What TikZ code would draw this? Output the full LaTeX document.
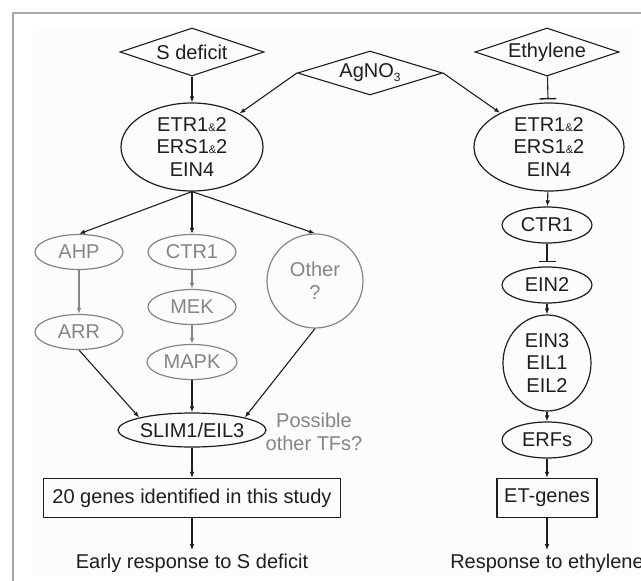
\documentclass[tikz,border=0pt]{standalone}
\usepackage{fontspec}
\setmainfont{Liberation Sans}
\usetikzlibrary{shapes.geometric,arrows.meta}
\definecolor{ink}{HTML}{1E1E1E}
\definecolor{dim}{HTML}{858585}
\definecolor{framegray}{HTML}{A8A8A8}
\newcommand\smallamp{{\fontsize{11}{11}\selectfont\&}}
\newcommand\subthree{\raisebox{-4pt}{\fontsize{12}{12}\selectfont 3}}
\begin{document}
\begin{tikzpicture}[x=1pt,y=-1pt,
  every node/.style={font=\fontsize{20}{22.5}\selectfont, text=ink},
  dia/.style={draw=ink, line width=1.1pt, shape=diamond, inner sep=0pt, aspect=3,
              minimum width=144pt, minimum height=48pt},
  ell/.style={draw=ink, line width=1.2pt, ellipse, inner sep=-14pt, align=center},
  ellg/.style={ell, draw=dim, text=dim, minimum width=88pt, minimum height=35pt},
  genebox/.style={draw=ink, line width=1.2pt, rectangle, minimum height=39pt, inner sep=0pt},
  act/.style={draw=ink, line width=1.1pt, -{Latex[length=6pt,width=4.5pt]}},
  actg/.style={act, draw=dim},
  inh/.style={draw=ink, line width=1.1pt, -{Bar[width=17pt,line width=1.3pt]}},
]
\useasboundingbox (0,0) rectangle (641,581);
% panel frame
\fill[black!1] (33,27) rectangle (633,576);
\draw[framegray, line width=1.5pt] (641,13) -- (13,13) -- (13,581);

% inputs
\node[dia] (sdef) at (192,52) {S deficit};
\node[dia, minimum width=145pt, minimum height=44pt] (ag) at (370,73) {AgNO\subthree};
\node[dia] (eth) at (547,52) {Ethylene};

% receptors
\node[ell, minimum width=142pt, minimum height=88pt] (recL) at (192,147)
  {ETR1\smallamp2\\ERS1\smallamp2\\EIN4};
\node[ell, minimum width=150pt, minimum height=88pt] (recR) at (549,147)
  {ETR1\smallamp2\\ERS1\smallamp2\\EIN4};

% S-deficit branch
\node[ellg] (ahp) at (79,252) {AHP};
\node[ellg] (ctrL) at (192,252) {CTR1};
\node[ellg, minimum width=96pt, minimum height=94pt] (oth) at (315,281) {Other\\?};
\node[ellg] (arr) at (79,332) {ARR};
\node[ellg] (mek) at (192,307) {MEK};
\node[ellg, minimum width=90pt] (mapk) at (192,362) {MAPK};
\node[ell, minimum width=148pt, minimum height=34pt] (slim) at (192,430) {SLIM1/EIL3};
\node[text=dim, align=center] (tfs) at (314,432) {Possible\\other TFs?};
\node[genebox, minimum width=297pt] (genes) at (192,498) {20 genes identified in this study};
\node (early) at (192,563) {Early response to S deficit};

% ethylene branch
\node[ell, minimum width=90pt, minimum height=36pt] (ctrR) at (547,225) {CTR1};
\node[ell, minimum width=90pt, minimum height=36pt] (ein2) at (547,285) {EIN2};
\node[ell, minimum width=88pt, minimum height=96pt] (ein3) at (547,363) {EIN3\\EIL1\\EIL2};
\node[ell, minimum width=90pt, minimum height=36pt] (erf) at (547,440) {ERFs};
\node[genebox, minimum width=100pt] (etg) at (547,498) {ET-genes};
\node (resp) at (547,563) {Response to ethylene};

% connectors, S-deficit side
\draw[act] (sdef) -- (recL);
\draw[act] (ag.west) -- (recL);
\draw[act] (ag.east) -- (recR);
\draw[act] (recL.south) -- (ahp.north);
\draw[act] (recL.south) -- (ctrL.north);
\draw[act] (recL.south) -- (oth.north);
\draw[actg] (ahp) -- (arr);
\draw[actg] (ctrL) -- (mek);
\draw[actg] (mek) -- (mapk);
\draw[act] (arr.south) -- (slim.north west);
\draw[act] (mapk) -- (slim);
\draw[act] (oth.south) -- (slim.north east);
\draw[act] (slim) -- (genes);
\draw[act] (genes) -- (early);

% connectors, ethylene side
\draw[inh, shorten >=3pt] (eth) -- (recR);
\draw[act] (recR) -- (ctrR);
\draw[inh, shorten >=4pt] (ctrR) -- (ein2);
\draw[act] (ein2) -- (ein3);
\draw[act] (ein3) -- (erf);
\draw[act] (erf) -- (etg);
\draw[act] (etg) -- (resp);
\end{tikzpicture}
\end{document}
